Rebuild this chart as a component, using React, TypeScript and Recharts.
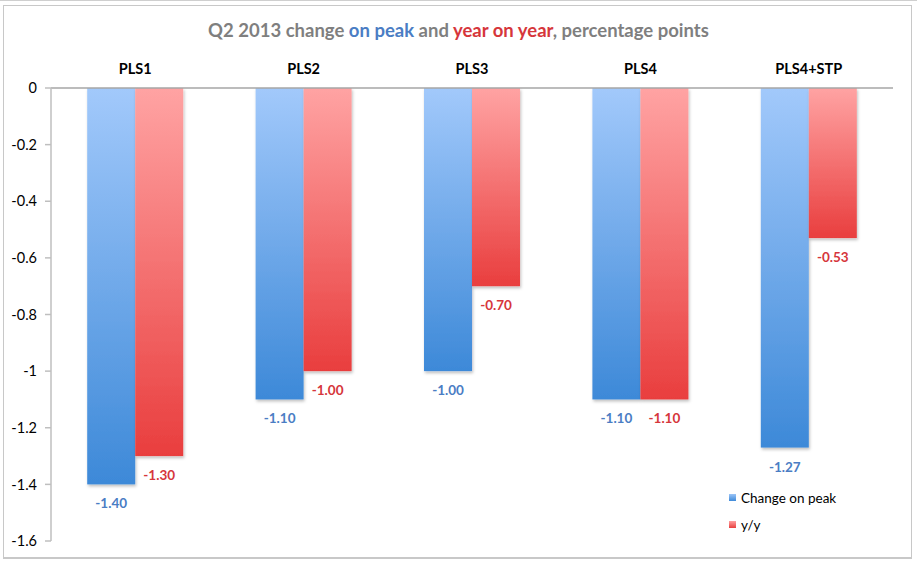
import { BarChart, Bar, XAxis, YAxis, LabelList } from 'recharts'

// ── Data ─────────────────────────────────────────────────
const categories = ['PLS1', 'PLS2', 'PLS3', 'PLS4', 'PLS4+STP']
const changeOnPeak = [-1.4, -1.1, -1.0, -1.1, -1.27]
const yearOnYear = [-1.3, -1.0, -0.7, -1.1, -0.53]
const yTicks = [0, -0.2, -0.4, -0.6, -0.8, -1, -1.2, -1.4, -1.6]
const boundaryTicks = [0, 1, 2, 3, 4, 5]

const data = categories.map((c, i) => ({
  name: c,
  peak: changeOnPeak[i],
  yy: yearOnYear[i],
}))

const FONT = 'Lato, "Open Sans", sans-serif'
const BLUE_TEXT = '#4a7dc4'
const RED_TEXT = '#d6363b'

function GradBar(props: any) {
  const { x, y, width, height, gradId } = props
  const top = Math.min(y, y + height)
  const h = Math.abs(height)
  return (
    <rect x={x} y={top} width={width} height={h} fill={`url(#${gradId})`} filter="url(#barShadow)" />
  )
}

function makeLabel(color: string) {
  return (props: any) => {
    const { x, y, width, height, value } = props
    const bottom = Math.max(y, y + height)
    return (
      <text
        x={x + width / 2}
        y={bottom + 19}
        textAnchor="middle"
        dominantBaseline="central"
        fill={color}
        fontFamily={FONT}
        fontWeight={700}
        fontSize={13.5}
      >
        {Number(value).toFixed(2)}
      </text>
    )
  }
}

// legend drawn as an overlay so it doesn't eat plot space
function LegendBox() {
  const items = [
    { label: 'Change on peak', fill: 'url(#lgBlue)' },
    { label: 'y/y', fill: 'url(#lgRed)' },
  ]
  return (
    <svg width={150} height={50} style={{ position: 'absolute', left: 726, top: 486 }}>
      <defs>
        <linearGradient id="lgBlue" x1="0" y1="0" x2="0" y2="1">
          <stop offset="0%" stopColor="#9cc5f7" />
          <stop offset="100%" stopColor="#3f8ad9" />
        </linearGradient>
        <linearGradient id="lgRed" x1="0" y1="0" x2="0" y2="1">
          <stop offset="0%" stopColor="#ffa0a0" />
          <stop offset="100%" stopColor="#e8403f" />
        </linearGradient>
      </defs>
      {items.map((it, i) => (
        <g key={it.label} transform={`translate(0, ${i * 27})`}>
          <rect x={3} y={8} width={7} height={7} fill={it.fill} />
          <text x={15} y={12} dominantBaseline="central" fontFamily={FONT} fontSize={13.5} fill="#000">
            {it.label}
          </text>
        </g>
      ))}
    </svg>
  )
}

export default function App() {
  return (
    <div style={{ position: 'absolute', left: 0, top: 0, width: 917, height: 564, background: '#fff' }}>
      {/* outer frame */}
      <div style={{ position: 'absolute', left: 0, top: 0, width: 917, height: 1, background: '#cfcfcf' }} />
      <div
        style={{
          position: 'absolute',
          left: 3,
          top: 5,
          width: 907,
          height: 551,
          border: '1px solid #c8c8c8',
          borderBottomWidth: 2,
        }}
      />
      <div
        style={{
          position: 'absolute',
          left: 0,
          top: 19,
          width: 917,
          textAlign: 'center',
          fontFamily: FONT,
          fontWeight: 700,
          fontSize: 18.5,
          color: '#7f7f7f',
        }}
      >
        Q2 2013 change <span style={{ color: BLUE_TEXT }}>on peak</span> and{' '}
        <span style={{ color: RED_TEXT }}>year on year</span>, percentage points
      </div>
      <div style={{ position: 'absolute', left: 0, top: 0 }}>
        <BarChart
          width={917}
          height={564}
          data={data}
          margin={{ top: 58, right: 24, bottom: 23, left: 0 }}
          barCategoryGap="21.5%"
          barGap={0}
        >
          <defs>
            <linearGradient id="gBlue" x1="0" y1="0" x2="0" y2="1">
              <stop offset="0%" stopColor="#a2c9fb" />
              <stop offset="100%" stopColor="#3d89d8" />
            </linearGradient>
            <linearGradient id="gRed" x1="0" y1="0" x2="0" y2="1">
              <stop offset="0%" stopColor="#ffa3a3" />
              <stop offset="100%" stopColor="#e93e3e" />
            </linearGradient>
            <filter id="barShadow" x="-20%" y="-5%" width="140%" height="115%">
              <feDropShadow dx="1" dy="2" stdDeviation="1.5" floodColor="#000" floodOpacity="0.25" />
            </filter>
          </defs>
          <XAxis
            xAxisId="bounds"
            type="number"
            domain={[0, 5]}
            ticks={boundaryTicks}
            interval={0}
            orientation="top"
            height={0}
            mirror
            axisLine={false}
            tickSize={5}
            tickLine={{ stroke: '#a6a6a6', strokeWidth: 1.5 }}
            tick={{ fontSize: 1, fill: 'transparent' }}
          />
          <XAxis
            dataKey="name"
            orientation="top"
            height={30}
            tickLine={false}
            tickSize={0}
            tickMargin={14}
            axisLine={{ stroke: '#a6a6a6', strokeWidth: 1.5 }}
            tick={{ fill: '#000', fontFamily: FONT, fontWeight: 700, fontSize: 14.5 }}
            interval={0}
          />
          <YAxis
            domain={[-1.6, 0]}
            ticks={yTicks}
            width={51}
            tickSize={6}
            tickMargin={8}
            interval={0}
            axisLine={{ stroke: '#bfbfbf', strokeWidth: 1.5 }}
            tickLine={{ stroke: '#bfbfbf', strokeWidth: 1.5 }}
            tick={{ fill: '#000', fontFamily: FONT, fontSize: 14.5 }}
          />
          <Bar
            dataKey="peak"
            name="Change on peak"
            isAnimationActive={false}
            shape={(p: any) => <GradBar {...p} gradId="gBlue" />}
          >
            <LabelList dataKey="peak" content={makeLabel(BLUE_TEXT)} />
          </Bar>
          <Bar
            dataKey="yy"
            name="y/y"
            isAnimationActive={false}
            shape={(p: any) => <GradBar {...p} gradId="gRed" />}
          >
            <LabelList dataKey="yy" content={makeLabel(RED_TEXT)} />
          </Bar>
        </BarChart>
      </div>
      <LegendBox />
    </div>
  )
}
